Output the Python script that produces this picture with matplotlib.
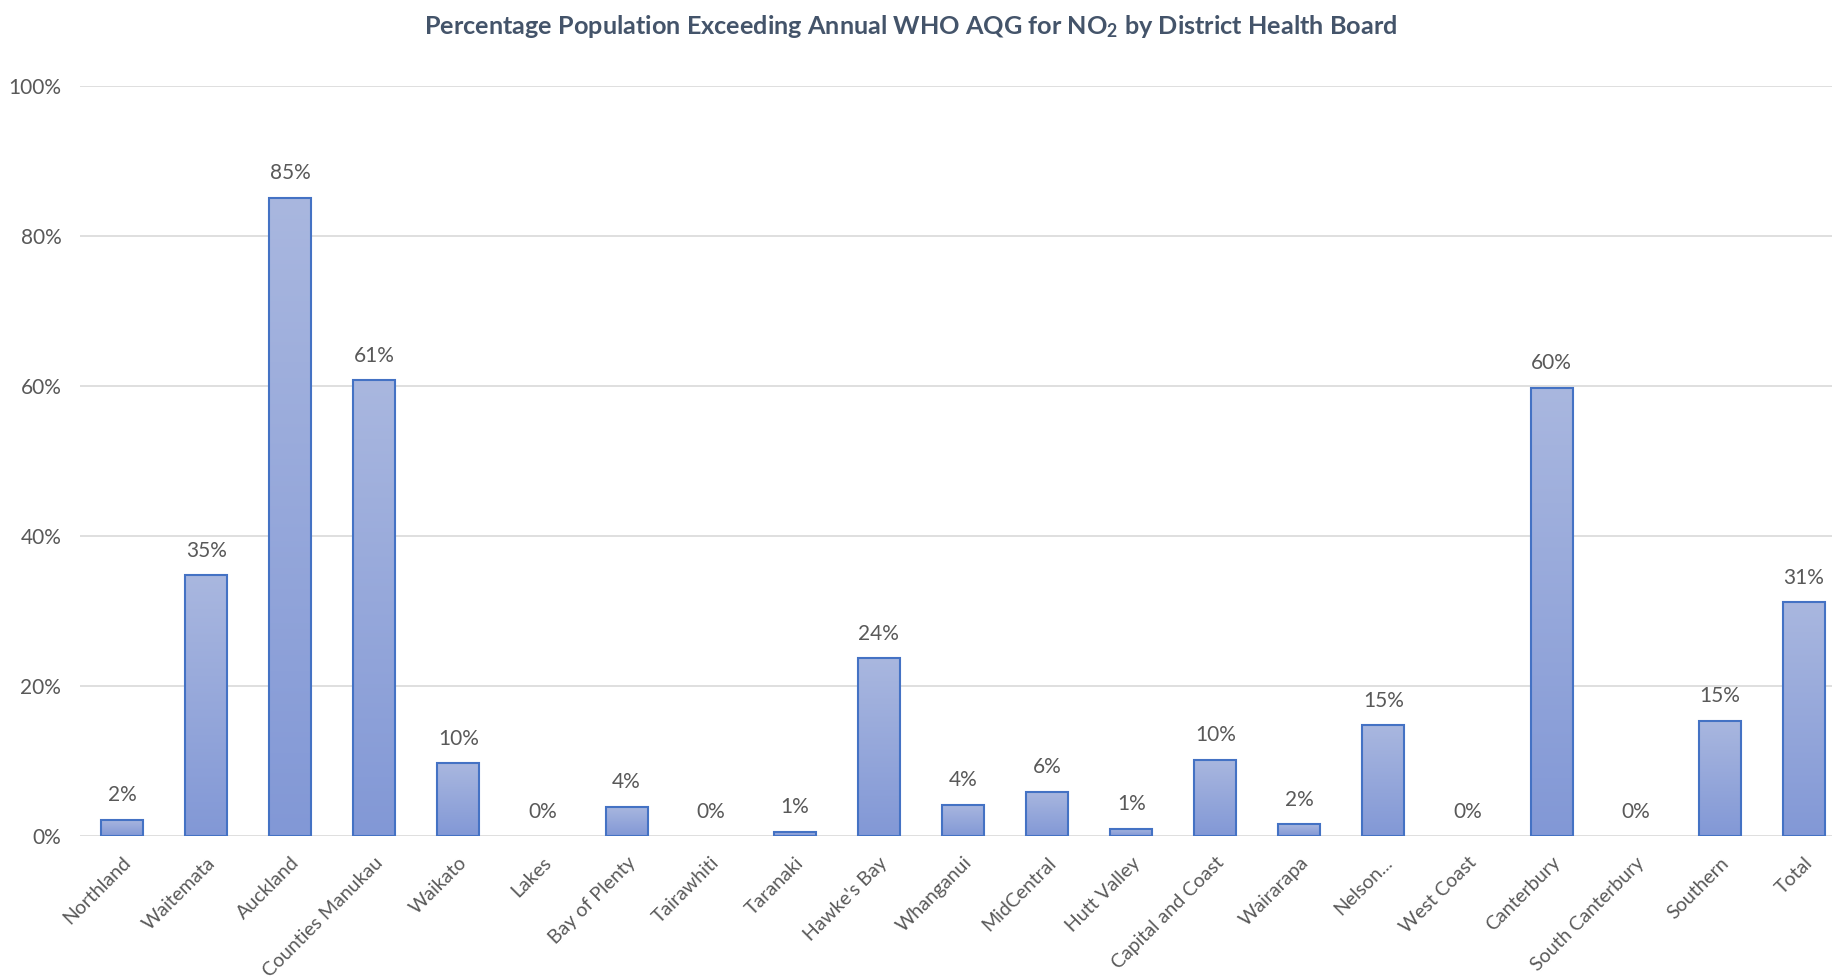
import numpy as np
import matplotlib
matplotlib.use("Agg")
from matplotlib import pyplot as plt

plt.rcParams["font.family"] = ["Lato", "DejaVu Sans"]
plt.rcParams["mathtext.default"] = "regular"

districts = ["Northland", "Waitemata", "Auckland", "Counties Manukau", "Waikato",
             "Lakes", "Bay of Plenty", "Tairawhiti", "Taranaki", "Hawke's Bay",
             "Whanganui", "MidCentral", "Hutt Valley", "Capital and Coast",
             "Wairarapa", "Nelson...", "West Coast", "Canterbury",
             "South Canterbury", "Southern", "Total"]
pct_exceeding = [2.2, 34.8, 85.1, 60.8, 9.7, 0.0, 3.9, 0.0, 0.6, 23.7,
                 4.2, 5.9, 1.0, 10.2, 1.6, 14.8, 0.0, 59.8, 0.0, 15.4, 31.2]
y_ticks = [0, 20, 40, 60, 80, 100]

grey = "#595959"
edge = "#4472C4"

fig = plt.figure(figsize=(18.32, 9.8), dpi=100)
# plot area runs past the right edge, like the cropped original
ax = fig.add_axes([80 / 1832, 1 - 836 / 980, 1766 / 1832, 750 / 980])

x = np.arange(len(districts))
bars = ax.bar(x, pct_exceeding, width=0.5, facecolor="none", edgecolor=edge,
              linewidth=1.5, zorder=3)

# vertical gradient inside each bar, lighter at the top
grad = np.linspace(0, 1, 256).reshape(-1, 1)
cmap = matplotlib.colors.LinearSegmentedColormap.from_list(
    "bar", ["#A9B7DF", "#8298D6"])
for b in bars:
    if b.get_height() <= 0:
        b.set_visible(False)
        continue
    x0, y0 = b.get_x(), b.get_y()
    im = ax.imshow(grad, cmap=cmap, aspect="auto", origin="upper",
                   extent=[x0, x0 + b.get_width(), y0, y0 + b.get_height()],
                   zorder=2)
    im.set_clip_path(b)

for xi, v in zip(x, pct_exceeding):
    ax.annotate(f"{v:.0f}%", (xi, v), xytext=(0, 17.5), textcoords="offset points",
                ha="center", va="center", fontsize=15, color=grey)

ax.set_xlim(-0.5, len(districts) - 0.5)
ax.set_ylim(0, 100)
ax.set_yticks(y_ticks)
ax.set_yticklabels([f"{t}%" for t in y_ticks])
ax.set_xticks(x)
ax.set_xticklabels(districts, rotation=45, ha="right", rotation_mode="anchor")
ax.tick_params(axis="both", length=0, labelsize=15, labelcolor=grey)
ax.tick_params(axis="x", labelsize=14, pad=13)
ax.tick_params(axis="y", pad=13.5)
ax.grid(axis="y", color="#D9D9D9", linewidth=1.2, zorder=0)
ax.set_axisbelow(True)
for s in ax.spines.values():
    s.set_visible(False)

fig.text(0.497, 1 - 27 / 980,
         "Percentage Population Exceeding Annual WHO AQG for NO$_2$ by District Health Board",
         ha="center", va="center", fontsize=18.2, fontweight="bold", color="#44546A")

fig.savefig("out.png", dpi=100)
